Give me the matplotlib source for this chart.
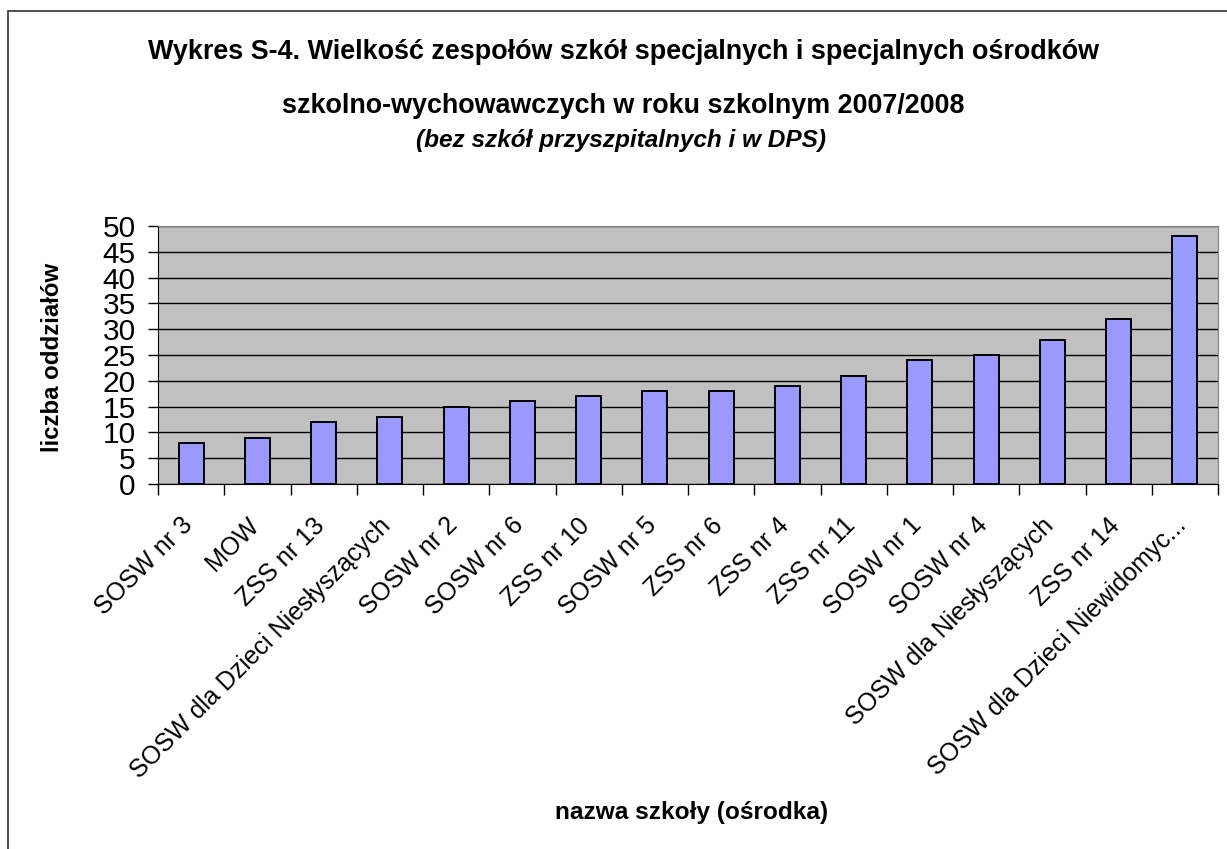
import matplotlib.pyplot as plt
import matplotlib.transforms as mtransforms
import numpy as np
from matplotlib.patches import Rectangle

plt.rcParams['font.family'] = ['Liberation Sans', 'DejaVu Sans']

schools = ["SOSW nr 3", "MOW", "ZSS nr 13", "SOSW dla Dzieci Niesłyszących",
           "SOSW nr 2", "SOSW nr 6", "ZSS nr 10", "SOSW nr 5", "ZSS nr 6",
           "ZSS nr 4", "ZSS nr 11", "SOSW nr 1", "SOSW nr 4",
           "SOSW dla Niesłyszących", "ZSS nr 14", "SOSW dla Dzieci Niewidomyc..."]
classes = [8, 9, 12, 13, 15, 16, 17, 18, 18, 19, 21, 24, 25, 28, 32, 48]

W, H = 1227, 849
fig = plt.figure(figsize=(W / 100, H / 100), dpi=100)
# outer chart frame (cut off at right and bottom as in the source)
fig.patches.append(Rectangle((8 / W, -0.1), 1.2, 1 - 11 / H + 0.1,
                             transform=fig.transFigure, fill=False,
                             edgecolor='#333333', linewidth=1.2))

ax = fig.add_axes([158 / W, 1 - 484 / H, (1218 - 158) / W, (484 - 226) / H])
ax.set_facecolor('#C0C0C0')

x = np.arange(len(schools))
ax.bar(x, classes, width=0.38, color='#9999FF', edgecolor='black', linewidth=1.4, zorder=3)

ax.set_xlim(-0.5, len(schools) - 0.5)
ax.set_ylim(0, 50)
ax.set_yticks(range(0, 51, 5))
ax.yaxis.grid(True, color='black', linewidth=1.0, zorder=1)
ax.set_axisbelow(True)
ax.tick_params(axis='y', labelsize=21.5, length=7, width=1, pad=9)

ax.set_xticks(x)
ax.set_xticklabels(schools, rotation=45, ha='right', rotation_mode='anchor', fontsize=18)
ax.tick_params(axis='x', which='major', length=0, pad=21)
shift = mtransforms.ScaledTranslation(-11 / 100, 0, fig.dpi_scale_trans)
for lbl in ax.get_xticklabels():
    lbl.set_transform(lbl.get_transform() + shift)
ax.set_xticks(np.arange(-0.5, len(schools), 1), minor=True)
ax.tick_params(axis='x', which='minor', length=8, width=1)

for s in ['top', 'right']:
    ax.spines[s].set_color('#808080')
for s in ['left', 'bottom']:
    ax.spines[s].set_color('black')

fig.text(53 / W, 1 - 357 / H, "liczba oddziałów", rotation=90,
         ha='center', va='center', fontsize=17.3, fontweight='bold')
fig.text(692 / W, 1 - 813 / H, "nazwa szkoły (ośrodka)",
         ha='center', va='center', fontsize=17.6, fontweight='bold')

fig.text(624 / W, 1 - 52 / H,
         "Wykres S-4. Wielkość zespołów szkół specjalnych i specjalnych ośrodków",
         ha='center', va='center', fontsize=19.4, fontweight='bold')
fig.text(623 / W, 1 - 106 / H,
         "szkolno-wychowawczych w roku szkolnym 2007/2008",
         ha='center', va='center', fontsize=19.4, fontweight='bold')
fig.text(621 / W, 1 - 141 / H, "(bez szkół przyszpitalnych i w DPS)",
         ha='center', va='center', fontsize=17.6, fontweight='bold', style='italic')

plt.savefig("out.png", dpi=100)
